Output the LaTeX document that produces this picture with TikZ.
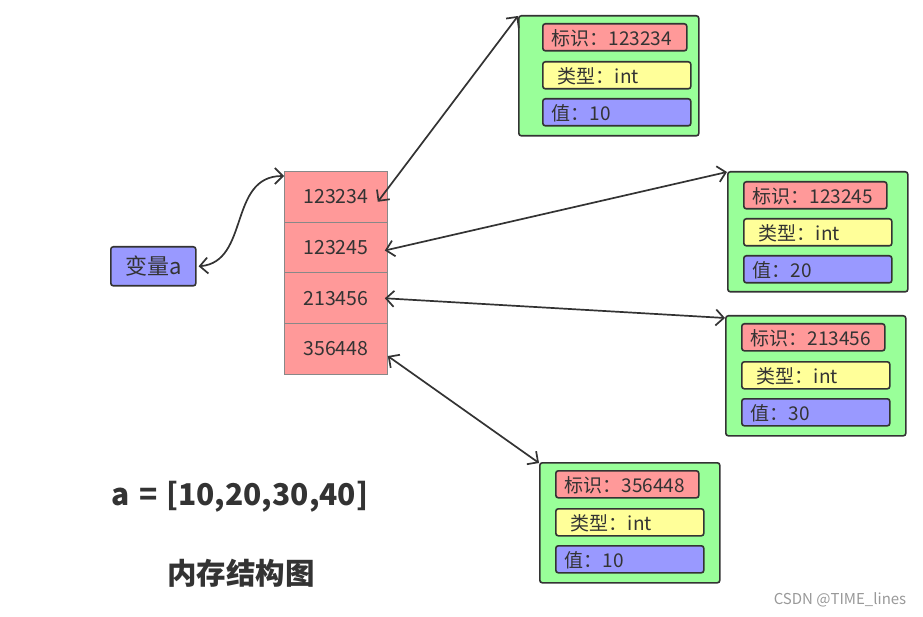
\documentclass[tikz,border=0pt]{standalone}
\usepackage{fontspec}
\setmainfont{Noto Sans CJK SC}
\usetikzlibrary{arrows.meta}
\definecolor{cpink}{HTML}{FF9999}
\definecolor{cgreen}{HTML}{99FF99}
\definecolor{cyellow}{HTML}{FFFF99}
\definecolor{cblue}{HTML}{9999FF}
\definecolor{cdark}{HTML}{333333}
\definecolor{cgrayb}{HTML}{888888}
\begin{document}
\begin{tikzpicture}[x=1pt,y=1pt,
  outer/.style={draw=cdark,line width=1.6pt,fill=cgreen,rounded corners=2.5pt,anchor=north west,minimum width=180pt,minimum height=120pt,inner sep=0pt},
  inner/.style={draw=cdark,line width=1.6pt,rounded corners=2.5pt,anchor=north west,minimum height=27pt,inner sep=0pt,text=cdark,font=\fontsize{19}{21}\selectfont,align=left,text depth=0pt},
  cell/.style={draw=cgrayb,line width=0.8pt,fill=cpink,anchor=north west,minimum width=103pt,minimum height=50.75pt,inner sep=0pt,text=cdark,font=\fontsize{19.5}{21}\selectfont},
  link/.style={draw=cdark,line width=1.7pt,{Straight Barb[length=8pt,width=16pt]}-{Straight Barb[length=8pt,width=16pt]}}
]
\useasboundingbox (0,0) rectangle (923,-617);
\fill[white] (0,0) rectangle (923,-617);

% memory column
\node[cell] (m1) at (284,-171) {123234};
\node[cell] (m2) at (284,-221.75) {123245};
\node[cell] (m3) at (284,-272.5) {213456};
\node[cell] (m4) at (284,-323.25) {356448};

% variable
\node[draw=cdark,line width=1.6pt,fill=cblue,rounded corners=2.5pt,anchor=north west,minimum width=85pt,minimum height=39pt,inner sep=0pt,text=cdark,font=\fontsize{22}{24}\selectfont] (va) at (110,-246) {变量a};

% box 1
\node[outer] (b1) at (518,-15) {};
\node[inner,fill=cpink,minimum width=144pt,text width=126pt] (b1a) at (542,-23) {标识：123234};
\node[inner,fill=cyellow,minimum width=148pt,text width=118pt] (b1b) at (542,-61) {类型：int};
\node[inner,fill=cblue,minimum width=148pt,text width=130pt] (b1c) at (542,-98) {值：10};

% box 2
\node[outer] (b2) at (727,-171) {};
\node[inner,fill=cpink,minimum width=143pt,text width=125pt] (b2a) at (743,-181) {标识：123245};
\node[inner,fill=cyellow,minimum width=148pt,text width=118pt] (b2b) at (743,-218) {类型：int};
\node[inner,fill=cblue,minimum width=148pt,text width=130pt] (b2c) at (743,-255) {值：20};

% box 3
\node[outer] (b3) at (725,-315) {};
\node[inner,fill=cpink,minimum width=143pt,text width=125pt] (b3a) at (741,-323) {标识：213456};
\node[inner,fill=cyellow,minimum width=148pt,text width=118pt] (b3b) at (741,-361) {类型：int};
\node[inner,fill=cblue,minimum width=148pt,text width=130pt] (b3c) at (741,-398) {值：30};

% box 4
\node[outer] (b4) at (539,-462) {};
\node[inner,fill=cpink,minimum width=143pt,text width=125pt] (b4a) at (555,-470) {标识：356448};
\node[inner,fill=cyellow,minimum width=148pt,text width=118pt] (b4b) at (555,-508) {类型：int};
\node[inner,fill=cblue,minimum width=148pt,text width=130pt] (b4c) at (555,-545) {值：10};

% connectors
\coordinate (vaR) at ([xshift=2pt]va.east);
\coordinate (mTop) at ([yshift=-5pt]m1.north west);
\draw[link] (vaR) .. controls (250,-262) and (228,-176) .. (mTop);
\draw[link] ([xshift=-10pt,yshift=-5pt]m1.east) -- ([shift={(0pt,-1pt)}]b1.north west);
\draw[link] ([xshift=-3pt,yshift=-3pt]m2.east) -- ([yshift=-1pt]b2.north west);
\draw[link] ([xshift=-3pt]m3.east) -- ([yshift=-3pt]b3.north west);
\draw[link] ([yshift=-7pt]m4.east) -- ([yshift=-1pt]b4.north west);

% captions
\node[font=\fontsize{30}{32}\selectfont\bfseries,text=cdark] (cap1) at (240,-497) {a\hspace{9pt}=\hspace{9pt}[10,20,30,40]};
\node[font=\fontsize{29.5}{31}\selectfont\bfseries,text=cdark] (cap2) at (241,-573) {内存结构图};
\node[font=\fontsize{15}{17}\selectfont,text=gray!80] (wm) at (840,-600) {CSDN @TIME\_lines};
\end{tikzpicture}
\end{document}
